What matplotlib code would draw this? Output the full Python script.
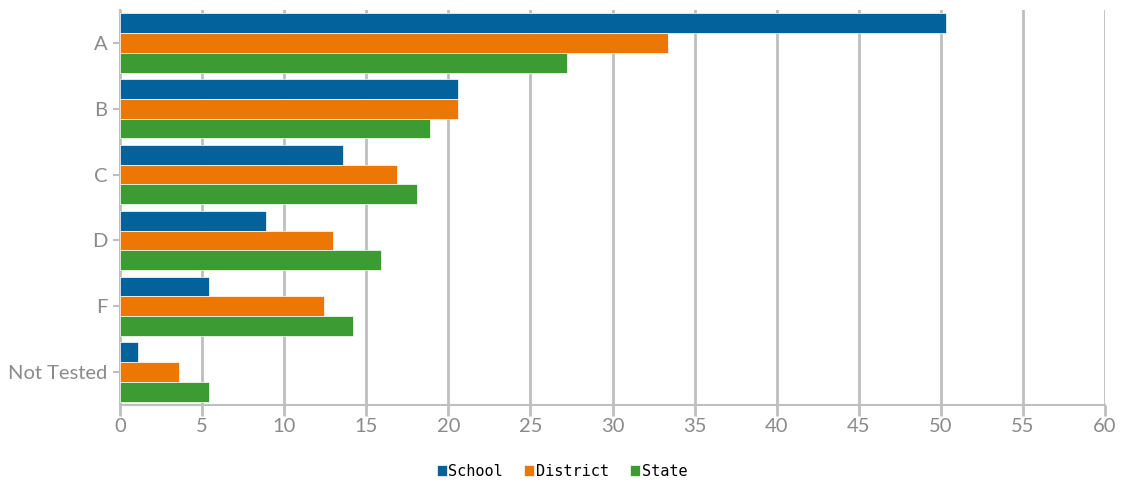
import matplotlib
matplotlib.use("Agg")
import matplotlib.pyplot as plt
import numpy as np

categories = ["A", "B", "C", "D", "F", "Not Tested"]
series_names = ["School", "District", "State"]
school = [50.3, 20.6, 13.6, 8.9, 5.4, 1.1]
district = [33.4, 20.6, 16.9, 13.0, 12.4, 3.6]
state = [27.2, 18.9, 18.1, 15.9, 14.2, 5.4]
xticks = list(range(0, 61, 5))

colors = ["#03619b", "#ec7704", "#3c9b33"]
grey = "#bfbfbf"
text_grey = "#8a8a8a"


def main():
    fig = plt.figure(figsize=(11.23, 4.83), dpi=100)
    ax = fig.add_axes([120 / 1123, 1 - 405 / 483, 985 / 1123, 395 / 483])

    y = np.arange(len(categories))
    h = 0.30
    for i, (vals, name) in enumerate(zip([school, district, state], series_names)):
        ax.barh(y + (i - 1) * h, vals, height=h, color=colors[i],
                edgecolor="white", linewidth=0.5, label=name, zorder=3)

    ax.set_xlim(0, 60)
    ax.set_ylim(len(categories) - 0.5, -0.5)
    ax.set_xticks(xticks)
    ax.set_yticks(y)
    ax.set_yticklabels(categories)

    ax.grid(axis="x", color=grey, linewidth=2, zorder=0)
    for side in ["top", "right"]:
        ax.spines[side].set_visible(False)
    for side in ["left", "bottom"]:
        ax.spines[side].set_color(grey)
        ax.spines[side].set_linewidth(1.5)
    ax.tick_params(axis="x", colors=grey, labelcolor=text_grey, length=8,
                   width=2, labelsize=14.5, pad=1)
    ax.tick_params(axis="y", colors=grey, labelcolor=text_grey, length=5,
                   width=1.5, labelsize=14.5, pad=4)
    for lbl in ax.get_xticklabels() + ax.get_yticklabels():
        lbl.set_family("Lato")

    fig.legend(loc="center", bbox_to_anchor=(562 / 1123, 1 - 471 / 483),
               ncol=3, frameon=False, handlelength=0.65, handleheight=0.75,
               handletextpad=0.1, columnspacing=1.4,
               prop={"family": "DejaVu Sans Mono", "size": 11})

    fig.savefig("out.png", dpi=100)


if __name__ == "__main__":
    main()
